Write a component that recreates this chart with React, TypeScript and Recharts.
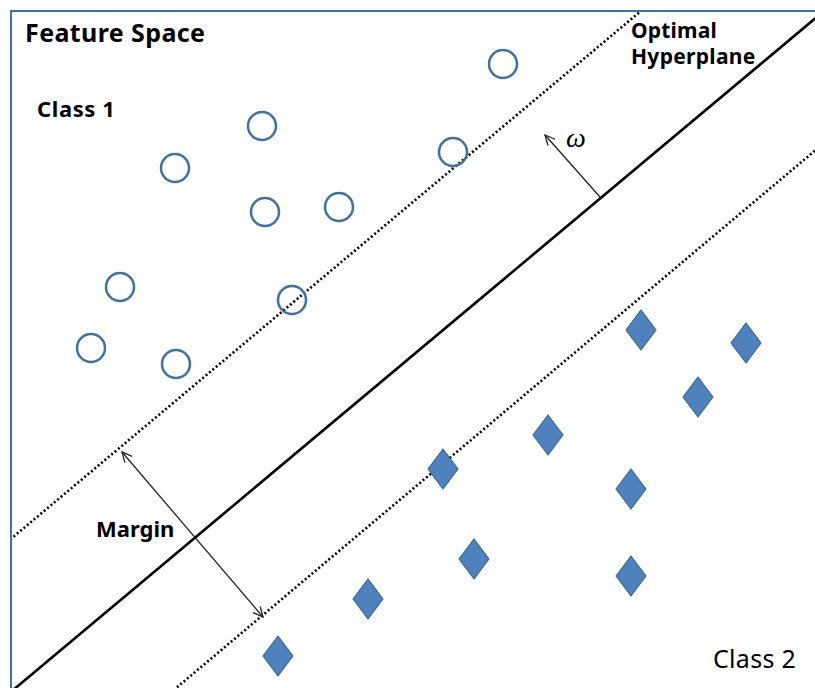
import React from 'react';
import {
  ScatterChart,
  Scatter,
  XAxis,
  YAxis,
  ReferenceLine,
} from 'recharts';

// feature-space coordinates (x to the right, y downward)
const class1 = [
  { x: 503, y: 64 },
  { x: 262, y: 126 },
  { x: 175, y: 168 },
  { x: 453, y: 152 },
  { x: 265, y: 212 },
  { x: 339, y: 207 },
  { x: 120, y: 287 },
  { x: 292, y: 300 },
  { x: 91, y: 348 },
  { x: 176, y: 364 },
];

const class2 = [
  { x: 641, y: 330 },
  { x: 746, y: 343 },
  { x: 698, y: 397 },
  { x: 548, y: 435 },
  { x: 443, y: 469 },
  { x: 631, y: 489 },
  { x: 474, y: 559 },
  { x: 631, y: 576 },
  { x: 368, y: 599 },
  { x: 278, y: 656 },
];

const hyperplane = [{ x: 0, y: 701 }, { x: 830, y: 6 }];
const upperMargin = [{ x: 0, y: 548 }, { x: 660, y: -5 }];
const lowerMargin = [{ x: 150, y: 710 }, { x: 830, y: 138 }];
const marginArrow = [{ x: 122, y: 452 }, { x: 263, y: 617 }];
const normalArrow = [{ x: 600, y: 197 }, { x: 545, y: 135 }];

const labels = [
  { text: 'Feature Space', x: 25, y: 42, size: 25, weight: 700, spacing: 0.4 },
  { text: 'Class 1', x: 37, y: 117, size: 22, weight: 700, spacing: 0.6 },
  { text: 'Optimal', x: 631, y: 38, size: 21, weight: 700, spacing: 0.2 },
  { text: 'Hyperplane', x: 631, y: 64, size: 21, weight: 700, spacing: 0.3 },
  { text: 'Margin', x: 96, y: 537, size: 22, weight: 700, spacing: 0 },
  { text: 'Class 2', x: 713, y: 668, size: 25, weight: 400, spacing: 0.3 },
];

const BLUE_EDGE = '#41719C';
const BLUE_FILL = '#4F81BD';

const CircleShape = (props: any) => {
  const { cx, cy } = props;
  return <circle cx={cx} cy={cy} r={14} fill="none" stroke={BLUE_EDGE} strokeWidth={2.5} />;
};

const DiamondShape = (props: any) => {
  const { cx, cy } = props;
  const w = 15;
  const h = 20;
  return (
    <polygon
      points={`${cx},${cy - h} ${cx + w},${cy} ${cx},${cy + h} ${cx - w},${cy}`}
      fill={BLUE_FILL}
      stroke="#3A6796"
      strokeWidth={1.2}
      strokeLinejoin="round"
    />
  );
};

const head = (x1: number, y1: number, x2: number, y2: number) => {
  const a = Math.atan2(y2 - y1, x2 - x1);
  const len = 11;
  const spread = 0.45;
  const p1 = `${x2 - len * Math.cos(a - spread)},${y2 - len * Math.sin(a - spread)}`;
  const p2 = `${x2 - len * Math.cos(a + spread)},${y2 - len * Math.sin(a + spread)}`;
  return <polyline points={`${p1} ${x2},${y2} ${p2}`} fill="none" stroke="#222" strokeWidth={1.3} />;
};

const arrowShape = (both: boolean) => (p: any) => {
  const { x1, y1, x2, y2 } = p;
  return (
    <g>
      <line x1={x1} y1={y1} x2={x2} y2={y2} stroke="#222" strokeWidth={1.3} />
      {head(x1, y1, x2, y2)}
      {both && head(x2, y2, x1, y1)}
    </g>
  );
};

export default function App() {
  return (
    <div style={{ position: 'absolute', left: 0, top: 0, width: 815, height: 688, overflow: 'hidden', background: '#fff' }}>
      <ScatterChart width={815} height={688} margin={{ top: 12, right: 0, bottom: 0, left: 12 }}>
        <XAxis type="number" dataKey="x" domain={[12, 815]} allowDataOverflow hide />
        <YAxis type="number" dataKey="y" domain={[12, 688]} allowDataOverflow reversed hide />
        <Scatter data={class1} shape={CircleShape} isAnimationActive={false} />
        <Scatter data={class2} shape={DiamondShape} isAnimationActive={false} />
        <ReferenceLine segment={hyperplane} stroke="#000" strokeWidth={2.6} ifOverflow="hidden" />
        <ReferenceLine segment={upperMargin} stroke="#000" strokeWidth={2.6} strokeDasharray="2 2.4" ifOverflow="hidden" />
        <ReferenceLine segment={lowerMargin} stroke="#000" strokeWidth={2.6} strokeDasharray="2 2.4" ifOverflow="hidden" />
        <ReferenceLine segment={marginArrow} ifOverflow="visible" shape={arrowShape(true)} />
        <ReferenceLine segment={normalArrow} ifOverflow="visible" shape={arrowShape(false)} />
      </ScatterChart>
      <div
        style={{
          position: 'absolute',
          left: 10,
          top: 10,
          width: 900,
          height: 900,
          borderLeft: `2px solid ${BLUE_EDGE}`,
          borderTop: `2px solid ${BLUE_EDGE}`,
          pointerEvents: 'none',
        }}
      />
      <svg width={815} height={688} style={{ position: 'absolute', left: 0, top: 0, pointerEvents: 'none' }}>
        {labels.map((l) => (
          <text
            key={l.text}
            x={l.x}
            y={l.y}
            fontFamily="'Noto Sans', sans-serif"
            fontSize={l.size}
            fontWeight={l.weight}
            letterSpacing={l.spacing}
            fill="#000"
          >
            {l.text}
          </text>
        ))}
        <text x={566} y={147} fontFamily="'Liberation Serif', serif" fontStyle="italic" fontSize={28} fill="#000">
          ω
        </text>
      </svg>
    </div>
  );
}
